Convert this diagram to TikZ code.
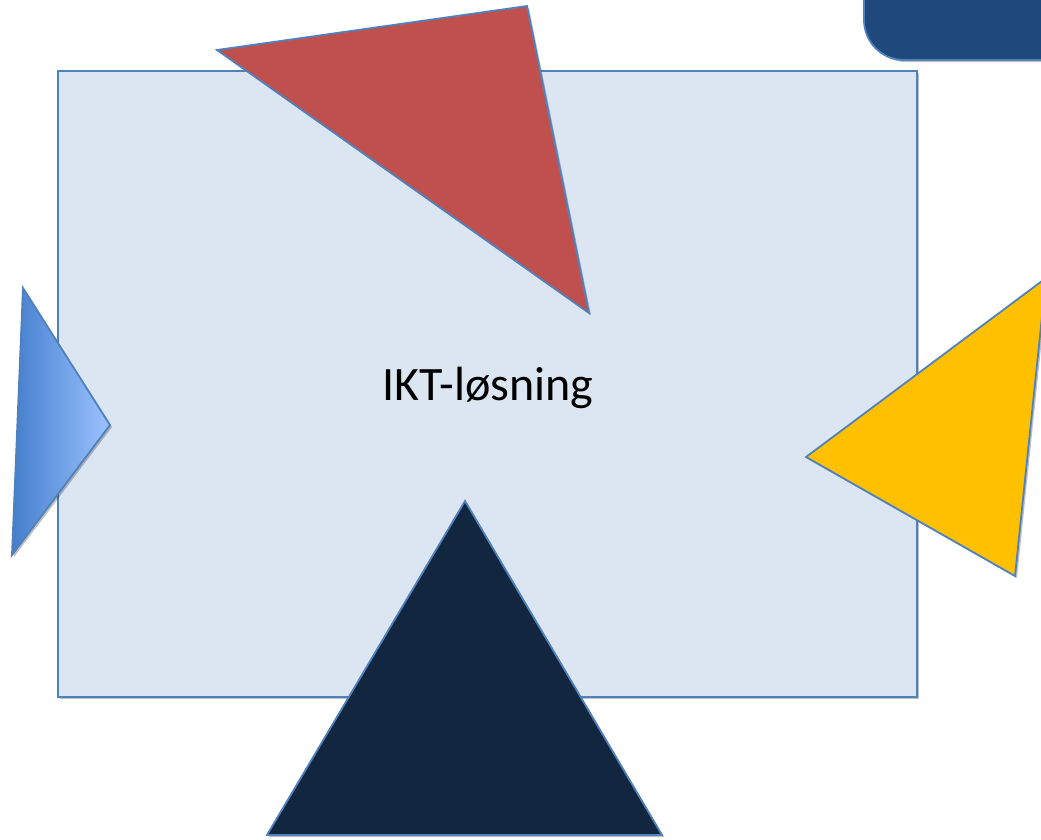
\documentclass[tikz,border=0pt]{standalone}
\usepackage{fontspec}
\setmainfont{Carlito}
\usetikzlibrary{shadows}
\definecolor{boxfill}{RGB}{220,230,242}
\definecolor{edge}{RGB}{79,129,189}
\definecolor{redtri}{RGB}{192,80,77}
\definecolor{yellowtri}{RGB}{255,192,0}
\definecolor{navytri}{RGB}{18,38,63}
\definecolor{topbox}{RGB}{31,73,125}
\definecolor{gradL}{RGB}{68,126,204}
\definecolor{gradR}{RGB}{155,194,255}
\tikzset{
  shape edge/.style={draw=edge, line width=1.8pt, line join=miter},
  softshadow/.style={drop shadow={shadow xshift=2pt, shadow yshift=-2pt, opacity=0.25, fill=black}},
}
\begin{document}
\begin{tikzpicture}[x=1pt,y=-1pt]
\useasboundingbox (0,0) rectangle (1041,839);
\begin{scope}
\clip (0,0) rectangle (1041,839);
% top-right rounded box
\draw[shape edge, fill=topbox, rounded corners=40pt, softshadow] (864,-60) rectangle (1100,60);
% main box
\draw[shape edge, fill=boxfill, softshadow] (58,71) rectangle (917,697);
\node[font=\fontsize{48}{56}\selectfont, text=black] (label) at (488,388) {IKT-løsning};
% red triangle
\coordinate (r1) at (217,50);
\coordinate (r2) at (527,6);
\coordinate (r3) at (589,313);
\draw[shape edge, fill=redtri, softshadow] (r1) -- (r2) -- (r3) -- cycle;
% left blue gradient triangle
\coordinate (b1) at (23,288);
\coordinate (b2) at (110,425);
\coordinate (b3) at (12,555);
\draw[shape edge, left color=gradL, right color=gradR, softshadow] (b1) -- (b2) -- (b3) -- cycle;
% yellow triangle
\coordinate (y1) at (806,457);
\coordinate (y2) at (1046,278);
\coordinate (y3) at (1015,576);
\draw[shape edge, fill=yellowtri, softshadow] (y1) -- (y2) -- (y3) -- cycle;
% navy triangle
\coordinate (n1) at (465,501);
\coordinate (n2) at (662,835);
\coordinate (n3) at (267,835);
\draw[shape edge, fill=navytri, softshadow] (n1) -- (n2) -- (n3) -- cycle;
\end{scope}
\end{tikzpicture}
\end{document}
